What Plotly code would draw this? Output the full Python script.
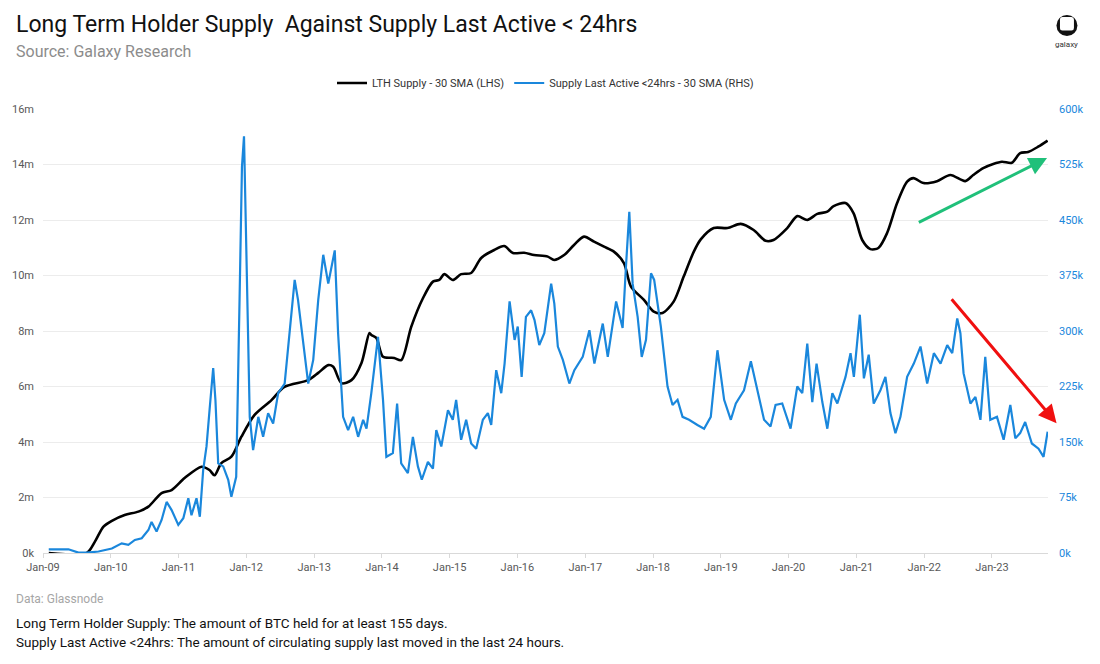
import plotly.graph_objects as go

# ---------------- data ----------------
lth_dates = [
    "2009-02-01", "2009-08-25", "2009-10-07", "2009-11-23", "2010-01-07", "2010-03-17",
    "2010-05-30", "2010-07-23", "2010-10-02", "2010-11-25", "2011-02-03", "2011-05-05",
    "2011-06-17", "2011-07-14", "2011-08-20", "2011-10-13", "2011-12-06", "2012-02-14",
    "2012-05-16", "2012-07-25", "2012-11-30", "2013-01-23", "2013-03-18", "2013-04-14",
    "2013-05-28", "2013-07-21", "2013-09-13", "2013-10-26", "2013-11-05", "2013-12-02",
    "2014-01-07", "2014-03-08", "2014-04-15", "2014-06-08", "2014-08-10", "2014-10-03",
    "2014-11-06", "2014-12-03", "2015-01-18", "2015-03-04", "2015-04-27", "2015-06-20",
    "2015-08-29", "2015-10-22", "2015-12-08", "2016-02-06", "2016-03-31", "2016-06-13",
    "2016-07-17", "2016-09-09", "2016-11-01", "2016-12-25", "2017-02-17", "2017-04-12",
    "2017-06-04", "2017-07-28", "2017-09-04", "2017-11-13", "2018-01-05", "2018-02-21",
    "2018-04-22", "2018-06-15", "2018-08-08", "2018-09-15", "2018-11-24", "2019-02-06",
    "2019-04-18", "2019-06-27", "2019-08-30", "2019-10-12", "2019-12-25", "2020-02-17",
    "2020-04-11", "2020-06-04", "2020-07-28", "2020-08-31", "2020-11-03", "2020-12-16",
    "2021-02-01", "2021-03-17", "2021-04-29", "2021-06-15", "2021-08-08", "2021-10-01",
    "2021-11-04", "2021-12-28", "2022-03-11", "2022-05-22", "2022-08-10", "2022-09-22",
    "2022-11-15", "2023-01-08", "2023-02-24", "2023-04-18", "2023-06-02", "2023-07-15",
    "2023-09-07", "2023-10-28",
]
lth_supply_m = [
    0.0, 0.0, 0.4, 0.95, 1.16, 1.37,
    1.49, 1.67, 2.16, 2.27, 2.70, 3.11,
    2.99, 2.80, 3.24, 3.47, 4.19, 4.97,
    5.51, 5.99, 6.23, 6.49, 6.77, 6.71,
    6.12, 6.23, 6.85, 7.93, 7.86, 7.75,
    7.07, 7.03, 6.95, 8.15, 9.18, 9.78,
    9.84, 10.05, 9.84, 10.05, 10.09, 10.63,
    10.92, 11.06, 10.81, 10.82, 10.74, 10.68,
    10.56, 10.74, 11.10, 11.40, 11.22, 11.04,
    10.86, 10.45, 9.60, 9.12, 8.70, 8.65,
    9.06, 9.96, 10.85, 11.30, 11.71, 11.71,
    11.86, 11.64, 11.25, 11.28, 11.71, 12.14,
    12.00, 12.22, 12.30, 12.50, 12.61, 12.25,
    11.28, 10.95, 10.99, 11.53, 12.61, 13.38,
    13.51, 13.33, 13.40, 13.62, 13.40, 13.62,
    13.87, 14.02, 14.10, 14.06, 14.41, 14.45,
    14.64, 14.86,
]

active_dates = [
    "2009-02-01", "2009-05-18", "2009-07-11", "2009-08-25", "2009-10-27", "2010-01-07",
    "2010-03-01", "2010-04-06", "2010-05-11", "2010-06-17", "2010-07-23", "2010-08-09",
    "2010-09-05", "2010-10-02", "2010-10-29", "2010-11-25", "2010-12-31", "2011-01-27",
    "2011-02-23", "2011-03-12", "2011-04-08", "2011-04-26", "2011-05-14", "2011-06-01",
    "2011-06-19", "2011-07-07", "2011-07-19", "2011-08-03", "2011-08-30", "2011-09-26",
    "2011-10-13", "2011-11-08", "2011-11-26", "2011-12-09", "2011-12-20", "2012-01-02",
    "2012-01-20", "2012-02-07", "2012-03-06", "2012-04-01", "2012-04-28", "2012-05-25",
    "2012-06-21", "2012-07-26", "2012-08-22", "2012-09-18", "2012-10-06", "2012-11-02",
    "2012-11-30", "2012-12-27", "2013-01-23", "2013-02-19", "2013-03-18", "2013-04-22",
    "2013-05-10", "2013-06-06", "2013-07-03", "2013-07-30", "2013-08-26", "2013-09-22",
    "2013-10-10", "2013-11-05", "2013-12-11", "2014-01-07", "2014-01-25", "2014-03-01",
    "2014-03-24", "2014-04-15", "2014-05-21", "2014-06-17", "2014-07-14", "2014-08-04",
    "2014-09-06", "2014-10-03", "2014-10-21", "2014-11-17", "2014-12-23", "2015-01-18",
    "2015-02-05", "2015-03-04", "2015-03-31", "2015-04-27", "2015-05-24", "2015-06-29",
    "2015-07-26", "2015-08-13", "2015-09-09", "2015-10-06", "2015-10-24", "2015-11-20",
    "2015-12-17", "2016-01-03", "2016-01-24", "2016-02-16", "2016-03-15", "2016-04-02",
    "2016-04-28", "2016-05-25", "2016-07-01", "2016-07-18", "2016-08-06", "2016-09-02",
    "2016-10-07", "2016-11-03", "2016-12-18", "2017-01-23", "2017-02-19", "2017-04-05",
    "2017-05-02", "2017-06-16", "2017-07-21", "2017-08-08", "2017-08-26", "2017-09-13",
    "2017-10-10", "2017-11-01", "2017-11-24", "2017-12-21", "2018-01-07", "2018-02-12",
    "2018-03-20", "2018-04-16", "2018-05-13", "2018-06-09", "2018-07-14", "2018-08-28",
    "2018-10-03", "2018-11-08", "2018-12-14", "2019-01-19", "2019-02-24", "2019-03-23",
    "2019-05-06", "2019-06-12", "2019-07-17", "2019-08-22", "2019-09-26", "2019-10-23",
    "2019-11-28", "2020-01-12", "2020-02-17", "2020-03-15", "2020-04-11", "2020-05-08",
    "2020-05-31", "2020-07-01", "2020-07-28", "2020-08-24", "2020-09-20", "2020-11-03",
    "2020-11-30", "2020-12-18", "2021-01-19", "2021-02-10", "2021-03-08", "2021-04-04",
    "2021-05-10", "2021-06-06", "2021-07-03", "2021-07-30", "2021-08-26", "2021-10-01",
    "2021-11-06", "2021-12-12", "2022-01-17", "2022-02-22", "2022-03-30", "2022-05-05",
    "2022-06-01", "2022-06-28", "2022-07-15", "2022-08-01", "2022-09-07", "2022-10-04",
    "2022-10-31", "2022-11-26", "2022-12-23", "2023-01-28", "2023-03-05", "2023-04-10",
    "2023-05-07", "2023-06-02", "2023-06-29", "2023-08-04", "2023-09-09", "2023-10-06",
    "2023-10-28",
]
active_supply_k = [
    5, 5, 0.5, 0.5, 2, 6,
    13, 11, 17.6, 20, 31, 42,
    29, 44.6, 69, 58, 38, 47,
    74, 51, 74, 49, 112, 144,
    198, 250, 207, 121, 117, 99,
    76, 103, 342, 522, 563, 387,
    184, 139, 184, 157, 189, 175,
    216, 229, 301, 369, 342, 288,
    229, 261, 342, 403, 364, 409,
    297, 184, 166, 184, 157, 180,
    168, 216, 292, 207, 130, 135,
    202, 121, 108, 157, 117, 99,
    123, 114, 166, 144, 193, 180,
    207, 153, 180, 148, 141, 180,
    189, 173, 247, 216, 256, 340,
    288, 306, 238, 319, 328, 315,
    281, 297, 364, 337, 279, 261,
    229, 247, 265, 301, 256, 310,
    265, 340, 304, 387, 461, 364,
    319, 265, 288, 378, 369, 306,
    225, 200, 207, 184, 180, 173,
    168, 184, 274, 207, 180, 202,
    220, 259, 220, 180, 171, 200,
    202, 168, 225, 216, 283, 204,
    256, 204, 168, 216, 202, 238,
    270, 238, 322, 236, 268, 202,
    220, 238, 189, 162, 184, 238,
    256, 279, 229, 270, 256, 281,
    270, 317, 297, 243, 202, 211,
    180, 265, 180, 184, 153, 200,
    155, 162, 177, 148, 141, 130,
    164,
]

left_tick_vals = [0, 2e6, 4e6, 6e6, 8e6, 10e6, 12e6, 14e6, 16e6]
left_tick_text = ["0k", "2m", "4m", "6m", "8m", "10m", "12m", "14m", "16m"]
right_tick_vals = [0, 75e3, 150e3, 225e3, 300e3, 375e3, 450e3, 525e3, 600e3]
right_tick_text = ["0k", "75k", "150k", "225k", "300k", "375k", "450k", "525k", "600k"]

title_text = "Long Term Holder Supply  Against Supply Last Active < 24hrs"
subtitle_text = "Source: Galaxy Research"
data_note = "Data: Glassnode"
footnote_1 = "Long Term Holder Supply: The amount of BTC held for at least 155 days."
footnote_2 = "Supply Last Active <24hrs: The amount of circulating supply last moved in the last 24 hours."

# ---------------- figure ----------------
W, H = 1100, 664
ML, MR, MT, MB = 41, 52, 109, 111
PW, PH = W - ML - MR, H - MT - MB

def px(x):
    return (x - ML) / PW

def py(y):
    return (H - MB - y) / PH

BLUE = "#1a87dc"
FONT = "Roboto"

fig = go.Figure()
fig.add_trace(go.Scatter(
    x=lth_dates, y=[v * 1e6 for v in lth_supply_m],
    name="LTH Supply - 30 SMA (LHS)", mode="lines",
    line=dict(color="#000000", width=2.6, shape="spline", smoothing=0.8), yaxis="y",
))
fig.add_trace(go.Scatter(
    x=active_dates, y=[v * 1e3 for v in active_supply_k],
    name="Supply Last Active <24hrs - 30 SMA (RHS)", mode="lines",
    line=dict(color=BLUE, width=2.2), yaxis="y2",
))

annotations = [
    dict(text=title_text, x=px(12), y=py(25), xref="paper", yref="paper",
         xanchor="left", yanchor="middle", showarrow=False,
         font=dict(family=FONT, size=23, color="#111111")),
    dict(text=subtitle_text, x=px(12), y=py(51), xref="paper", yref="paper",
         xanchor="left", yanchor="middle", showarrow=False,
         font=dict(family=FONT, size=16, color="#8c8c8c")),
    dict(text=data_note, x=px(12), y=py(599), xref="paper", yref="paper",
         xanchor="left", yanchor="middle", showarrow=False,
         font=dict(family=FONT, size=12, color="#a6a6a6")),
    dict(text=footnote_1, x=px(12), y=py(623), xref="paper", yref="paper",
         xanchor="left", yanchor="middle", showarrow=False,
         font=dict(family=FONT, size=13.5, color="#111111")),
    dict(text=footnote_2, x=px(12), y=py(642), xref="paper", yref="paper",
         xanchor="left", yanchor="middle", showarrow=False,
         font=dict(family=FONT, size=13.5, color="#111111")),
    dict(text="galaxy", x=px(1067), y=py(45), xref="paper", yref="paper",
         xanchor="center", yanchor="middle", showarrow=False,
         font=dict(family=FONT, size=8, color="#333333")),
    # trend arrows
    dict(x="2023-10-25", y=14.23e6, ax="2021-11-25", ay=11.89e6,
         xref="x", yref="y", axref="x", ayref="y", text="", showarrow=True,
         arrowhead=2, arrowsize=1.2, arrowwidth=3, arrowcolor="#20c07a"),
    dict(x="2023-12-15", y=4.68e6, ax="2022-05-22", ay=9.2e6,
         xref="x", yref="y", axref="x", ayref="y", text="", showarrow=True,
         arrowhead=2, arrowsize=1.2, arrowwidth=3, arrowcolor="#f01010"),
]

# galaxy logo: black disc with a white rounded square cut into it
def rounded_rect_path(x0, y0, x1, y1, r):
    X0, X1 = px(x0), px(x1)
    Y0, Y1 = py(y0), py(y1)
    rx, ry = r / PW, r / PH
    return (f"M {X0 + rx},{Y0} L {X1 - rx},{Y0} Q {X1},{Y0} {X1},{Y0 - ry} "
            f"L {X1},{Y1 + ry} Q {X1},{Y1} {X1 - rx},{Y1} L {X0 + rx},{Y1} "
            f"Q {X0},{Y1} {X0},{Y1 + ry} L {X0},{Y0 - ry} Q {X0},{Y0} {X0 + rx},{Y0} Z")

shapes = [
    dict(type="circle", xref="paper", yref="paper",
         x0=px(1056.5), x1=px(1077.5), y0=py(36), y1=py(15),
         line=dict(color="#111111", width=0), fillcolor="#111111"),
    dict(type="path", xref="paper", yref="paper",
         path=rounded_rect_path(1060, 17, 1074, 30.5, 2.5),
         line=dict(color="white", width=0), fillcolor="white"),
]

fig.update_layout(
    width=W, height=H,
    margin=dict(l=ML, r=MR, t=MT, b=MB),
    paper_bgcolor="white", plot_bgcolor="white",
    font=dict(family=FONT, color="#595959", size=11),
    showlegend=True,
    legend=dict(orientation="h", x=0.5, xanchor="center", y=py(83), yanchor="middle",
                font=dict(family=FONT, size=11, color="#333333"),
                itemwidth=30, tracegroupgap=0, bgcolor="rgba(0,0,0,0)"),
    xaxis=dict(
        type="date", range=["2009-01-01", "2023-10-30"],
        tick0="2009-01-01", dtick="M12", tickformat="%b-%y",
        showgrid=False, showline=True, linecolor="#d9d9d9", linewidth=1,
        ticks="outside", ticklen=4, tickcolor="#d9d9d9",
        tickfont=dict(family=FONT, size=11, color="#595959"),
        zeroline=False, fixedrange=True,
    ),
    yaxis=dict(
        range=[0, 16e6], tickvals=left_tick_vals, ticktext=left_tick_text,
        showgrid=True, gridcolor="#ececec", gridwidth=1, zeroline=False,
        tickfont=dict(family=FONT, size=11, color="#595959"), ticks="", ticklabelstandoff=8,
    ),
    yaxis2=dict(
        range=[0, 600e3], tickvals=right_tick_vals, ticktext=right_tick_text,
        overlaying="y", side="right", showgrid=False, zeroline=False,
        tickfont=dict(family=FONT, size=11, color=BLUE), ticks="", ticklabelstandoff=10,
    ),
    annotations=annotations,
    shapes=shapes,
)

fig.write_html("out.html")
